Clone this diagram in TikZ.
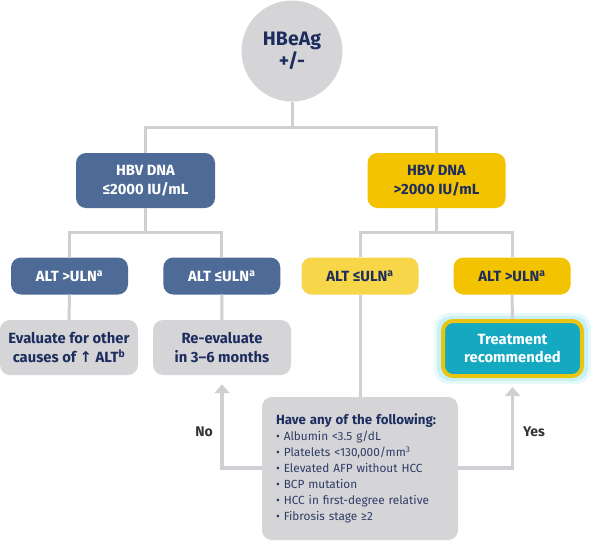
\documentclass[tikz,border=0pt]{standalone}
\usepackage{fontspec}
\setmainfont{Fira Sans}
\newfontfamily\djv{DejaVu Sans}
\usetikzlibrary{arrows.meta}
\definecolor{navy}{HTML}{1D2D5E}
\definecolor{bluebox}{HTML}{4E6B98}
\definecolor{yel}{HTML}{F3C300}
\definecolor{lyel}{HTML}{F8D64A}
\definecolor{graybox}{HTML}{D5D5D8}
\definecolor{conn}{HTML}{D0D0D4}
\definecolor{teal}{HTML}{14A8C1}
\definecolor{ybord}{HTML}{E9C411}
\definecolor{glow}{HTML}{7FDDEA}
\definecolor{critgray}{HTML}{2E3C66}
\tikzset{
  box/.style={rounded corners=10pt, align=center, inner sep=0pt, font=\bfseries\fontsize{14.8}{18.5}\selectfont},
  bluestyle/.style={box, fill=bluebox, text=white},
  yelstyle/.style={box, fill=yel, text=navy},
  lyelstyle/.style={box, fill=lyel, text=navy},
  graystyle/.style={box, fill=graybox, text=navy},
  conline/.style={draw=conn, line width=3pt},
  arrline/.style={draw=conn, line width=3.5pt, -{Triangle[width=15pt,length=9pt]}, shorten >=9pt},
  lbl/.style={font=\bfseries\fontsize{14}{16}\selectfont, text=black!80}
}
\begin{document}
\begin{tikzpicture}[x=1pt,y=-1pt]
\useasboundingbox (0,0) rectangle (598,542);
% nodes
\node[circle, fill=graybox, minimum size=101pt, inner sep=0pt, align=center, text=navy,
  font=\bfseries\fontsize{19.5}{21.5}\selectfont] (root) at (292,51) {HBeAg\\+/-};
\node[bluestyle, minimum width=139pt, minimum height=55pt] (dnaL) at (145.5,180.5) {HBV DNA\\≤2000 IU/mL};
\node[yelstyle, minimum width=138pt, minimum height=55pt] (dnaR) at (436.5,180.5) {HBV DNA\\>2000 IU/mL};
\node[bluestyle, minimum width=117pt, minimum height=37pt] (a1) at (69.5,276) {ALT >ULN\textsuperscript{a}};
\node[bluestyle, minimum width=117pt, minimum height=37pt] (a2) at (221.8,276) {ALT ≤ULN\textsuperscript{a}};
\node[lyelstyle, minimum width=117pt, minimum height=37pt] (a3) at (360,276) {ALT ≤ULN\textsuperscript{a}};
\node[yelstyle, minimum width=117pt, minimum height=37pt] (a4) at (512,276) {ALT >ULN\textsuperscript{a}};
\node[graystyle, minimum width=138pt, minimum height=55pt] (ev) at (69,347.5) {Evaluate for other\\causes of {\djv ↑} ALT\textsuperscript{b}};
\node[graystyle, minimum width=138pt, minimum height=55pt] (re) at (222,347.5) {Re-evaluate\\in 3–6 months};
% treatment with glow
\fill[glow, opacity=0.18, rounded corners=15pt] (434,313) rectangle (591,384);
\fill[glow, opacity=0.30, rounded corners=13pt] (437,316) rectangle (588,381);
\node[box, fill=teal, text=white, draw=ybord, line width=4pt, minimum width=139pt, minimum height=55pt] (tr) at (512.5,348.5) {Treatment\\recommended};
\node[graystyle, minimum width=196pt, minimum height=143pt, text width=168pt, align=left,
  font=\fontsize{11.8}{16}\selectfont, text=critgray] (cr) at (360,468.5)
  {{\bfseries\fontsize{13.3}{16}\selectfont\color{navy}Have any of the following:}\\
  • Albumin <3.5 g/dL\\
  • Platelets <130,000/mm\textsuperscript{3}\\
  • Elevated AFP without HCC\\
  • BCP mutation\\
  • HCC in first-degree relative\\
  • Fibrosis stage ≥2};
\node[lbl] (no) at (204,432) {No};
\node[lbl] (yes) at (534,432) {Yes};
% connectors
\coordinate (j0) at (292,127);
\coordinate (j1) at (145.5,232);
\coordinate (j2) at (436.5,232);
\coordinate (cl) at (262,468);
\coordinate (crr) at (458,468);
\begin{scope}[on background layer/.try]
\draw[conline] (root.south) -- (j0);
\draw[conline] (dnaL.north) |- (j0) -| (dnaR.north);
\draw[conline] (dnaL.south) -- (j1);
\draw[conline] (a1.north) |- (j1) -| (a2.north);
\draw[conline] (dnaR.south) -- (j2);
\draw[conline] (a3.north) |- (j2) -| (a4.north);
\draw[conline] (a1.south) -- (ev.north);
\draw[conline] (a2.south) -- (re.north);
\draw[conline] (a3.south) -- (a3.south |- cr.north);
\draw[conline] (a4.south) -- (tr.north);
\draw[arrline] (cl) -| (re.south);
\draw[arrline] (crr) -| (tr.south);
\end{scope}
\end{tikzpicture}
\end{document}
